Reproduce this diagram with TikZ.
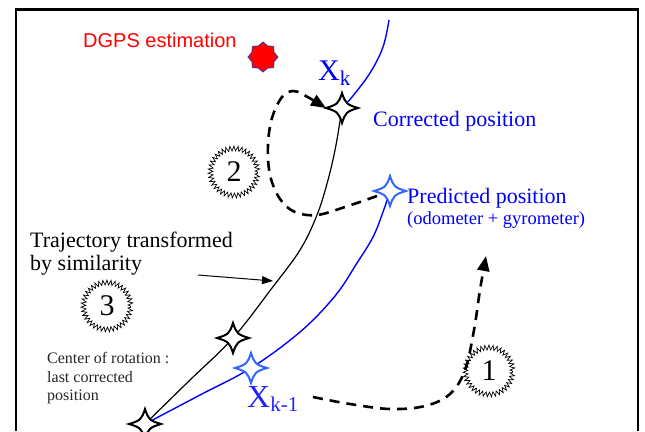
\documentclass[tikz,border=0pt]{standalone}
\usepackage{fontspec}
\setmainfont{Liberation Serif}
\newfontfamily\timesfont{Liberation Serif}
\newfontfamily\arialfont{Liberation Sans}
\usetikzlibrary{arrows.meta,decorations.pathmorphing,shapes.geometric}
\definecolor{starblue}{HTML}{3366FF}
\definecolor{xblue}{HTML}{2222FF}
\definecolor{starline}{HTML}{333399}
\begin{document}
\begin{tikzpicture}[x=1pt,y=-1pt,
  sparkle/.pic={\path[pic actions] (0,-15) .. controls (3.5,-4.5) and (4.5,-3.5) .. (16,0)
      .. controls (4.5,3.5) and (3.5,4.5) .. (0,15)
      .. controls (-3.5,4.5) and (-4.5,3.5) .. (-16,0)
      .. controls (-4.5,-3.5) and (-3.5,-4.5) .. (0,-15) -- cycle;},
  blackstar/.style={draw=black, fill=white, line width=2pt},
  bluestar/.style={draw=starblue, fill=white, line width=2pt},
  burst/.style={circle, draw, line width=0.7pt, minimum size=47pt, inner sep=0pt,
      decorate, decoration={zigzag, segment length=3.8pt, amplitude=2.4pt},
      font=\timesfont\fontsize{30}{30}\selectfont},
  dasharrow/.style={line width=2.6pt, dash pattern=on 10pt off 7pt,
      -{Triangle[length=15pt,width=12pt]}},
  lbl/.style={anchor=base west, inner sep=0pt},
  bigtxt/.style={lbl, font=\timesfont\fontsize{22}{26}\selectfont},
]
\useasboundingbox (0,0) rectangle (645,431);
% frame
\draw[line width=2.5pt] (16,431) -- (16,9.5) -- (638,9.5) -- (638,431);

% key points
\coordinate (base) at (145,424);
\coordinate (ctr)  at (233,338);
\coordinate (corr) at (342,108);
\coordinate (pred) at (390,191);
\coordinate (prev) at (251,368);
\coordinate (top)  at (389,20);

% trajectories
\draw[line width=1.2pt] plot[smooth, tension=0.6] coordinates
  {(base) (190,380) (ctr) (272,288) (300,250) (317,215) (328,180) (336,145) (corr)};
\draw[blue, line width=1.4pt] plot[smooth, tension=0.6] coordinates
  {(base) (200,395) (prev) (300,332) (335,296) (357,263) (373,237) (383,212) (pred)};
\draw[blue, line width=1.4pt] plot[smooth, tension=0.6] coordinates
  {(corr) (352,97) (370,73) (383,47) (top)};

% dashed arrows
\coordinate (d1s) at (313,397);
\coordinate (d1e) at (486,256);
\draw[dasharrow] plot[smooth, tension=0.6] coordinates
  {(d1s) (350,404) (390,409) (425,406) (450,394) (465,370) (474,330) (480,290) (d1e)};
\coordinate (d2s) at (377,196);
\coordinate (d2e) at (326,108);
\draw[dasharrow] plot[smooth, tension=0.6] coordinates
  {(d2s) (345,207) (317,215) (295,212) (280,199) (270,175) (268,145) (272,118) (282,97) (293,91) (304,95) (d2e)};

% thin arrow
\coordinate (ta) at (198,275);
\coordinate (tb) at (273,281);
\draw[line width=1pt, -{Triangle[length=11pt,width=8pt]}] (ta) -- (tb);

% stars
\pic[blackstar] at (corr) {sparkle};
\pic[blackstar] at (ctr) {sparkle};
\pic[blackstar] at (base) {sparkle};
\pic[bluestar] at (pred) {sparkle};
\pic[bluestar] at (prev) {sparkle};
\node[star, star points=8, star point ratio=1.25, minimum size=30pt, inner sep=0pt,
      fill=red, draw=starline, line width=0.8pt] (dgps) at (263,57) {};

% bursts
\node[burst] (n1) at (489,371) {1};
\node[burst] (n2) at (234,172) {2};
\node[burst] (n3) at (107,306) {3};

% labels
\node[lbl, text=red, font=\arialfont\fontsize{20}{24}\selectfont] (tdgps) at (83,47) {DGPS estimation};
\node[lbl, text=blue, font=\timesfont\fontsize{30}{30}\selectfont] (txk) at (318,80)
  {X\raisebox{-5pt}{\fontsize{21}{21}\selectfont k}};
\node[lbl, text=xblue, font=\timesfont\fontsize{32}{32}\selectfont] (txk1) at (247,407)
  {X\raisebox{-4pt}{\fontsize{21}{21}\selectfont k-1}};
\node[bigtxt, text=blue] (tcorr) at (373,126) {Corrected position};
\node[bigtxt, text=blue] (tpred) at (407,203) {Predicted position};
\node[lbl, text=blue, font=\timesfont\fontsize{18.5}{22}\selectfont] (todo) at (407,224) {(odometer + gyrometer)};
\node[bigtxt] (ttraj1) at (30,247) {Trajectory transformed};
\node[bigtxt] (ttraj2) at (30,270) {by similarity};
\node[lbl, font=\timesfont\fontsize{16}{18}\selectfont, text=black!85] (tc1) at (47,363) {Center of rotation :};
\node[lbl, font=\timesfont\fontsize{16}{18}\selectfont, text=black!85] (tc2) at (47,382) {last corrected};
\node[lbl, font=\timesfont\fontsize{16}{18}\selectfont, text=black!85] (tc3) at (47,400) {position};
\end{tikzpicture}
\end{document}
